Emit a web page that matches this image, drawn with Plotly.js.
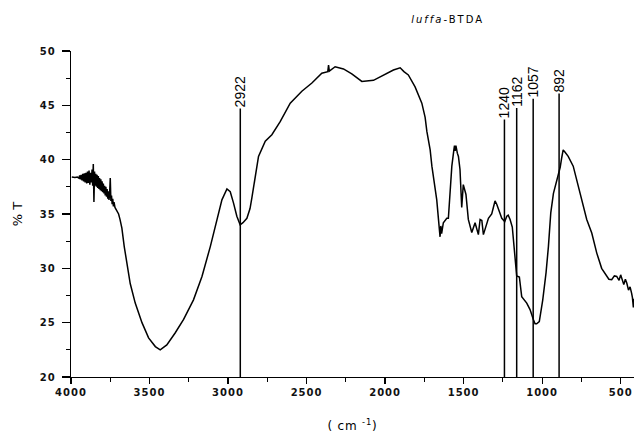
<!DOCTYPE html>
<html>
<head>
<meta charset="utf-8">
<script src="https://cdn.plot.ly/plotly-3.0.1.min.js"></script>
<style>
html,body{margin:0;padding:0;background:#fff;}
#chart{width:634px;height:433px;}
.xtick text,.ytick text{letter-spacing:1px;}
.gtitle{letter-spacing:2px;}
.g-xtitle text{letter-spacing:0.8px;}
</style>
</head>
<body>
<div id="chart"></div>
<script>
// FTIR spectrum of luffa-BTDA: wavenumber (cm^-1) vs % transmittance
const wavenumber = [3995,3975,3960,3950,3945,3940,3935,3930,3925,3920,3915,3910,3905,3900,3895,3890,3885,3880,3875,3870,3866,3862,3858,3854,3850,3846,3842,3838,3834,3830,3826,3822,3818,3814,3810,3806,3802,3798,3794,3790,3786,3782,3778,3774,3770,3766,3762,3758,3754,3750,3746,3742,3738,3734,3730,3726,3720,3712,3705,3697,3688,3676,3661,3644,3623,3591,3548,3506,3463,3432,3390,3337,3283,3220,3166,3113,3071,3039,3007,2986,2965,2944,2923,2905,2880,2860,2848,2827,2806,2763,2721,2668,2604,2530,2466,2403,2365,2360,2355,2318,2265,2212,2148,2074,2011,1947,1904,1880,1852,1809,1766,1745,1734,1713,1702,1692,1681,1671,1660,1654,1650,1645,1640,1629,1607,1597,1586,1575,1562,1558,1554,1549,1540,1533,1523,1512,1502,1485,1470,1448,1427,1406,1395,1384,1374,1363,1342,1321,1300,1289,1278,1257,1238,1225,1216,1204,1190,1178,1173,1162,1145,1130,1098,1077,1056,1045,1035,1018,996,975,960,945,928,911,900,892,885,875,866,855,834,802,780,748,716,684,652,621,589,575,557,540,525,510,500,493,480,470,461,450,440,430,425,419,416];
const transmittance = [38.4,38.35,38.4,38.3,38.55,38.2,38.6,38.1,38.7,38.0,38.75,37.9,38.8,37.8,38.9,37.85,39.0,37.7,38.8,37.9,39.1,37.6,39.6,36.1,38.9,37.6,38.7,37.5,38.6,37.4,38.5,37.3,38.3,37.2,38.2,37.1,38.0,37.0,37.8,36.9,37.6,36.7,37.5,36.6,37.3,36.4,37.1,36.3,36.9,38.3,36.2,36.7,35.9,36.4,35.7,36.1,35.6,35.4,35.2,35.0,34.5,33.7,32.0,30.5,28.6,26.8,25.0,23.6,22.8,22.5,22.95,24.05,25.3,27.1,29.25,32.0,34.45,36.3,37.3,37.05,36.0,34.8,34.0,34.2,34.6,35.5,36.5,38.6,40.3,41.7,42.3,43.5,45.2,46.3,47.05,47.95,48.1,48.7,48.15,48.55,48.35,47.9,47.2,47.3,47.8,48.25,48.45,48.1,47.8,46.7,45.2,43.9,42.6,40.9,39.4,38.4,37.4,36.3,34.5,33.3,32.9,33.9,33.2,34.2,34.6,34.6,37.2,39.4,40.9,41.3,40.8,41.3,40.6,40.3,39.1,35.6,37.7,36.8,34.5,33.3,34.2,33.1,34.5,34.4,33.1,33.6,34.6,35.0,36.2,35.9,35.4,34.6,34.3,34.8,34.9,34.5,33.8,32.0,31.1,29.3,29.2,27.4,26.8,26.2,25.3,24.9,24.9,25.1,27.1,29.6,32.0,35.1,36.9,37.85,38.6,39.1,39.3,40.2,40.9,40.7,40.3,39.4,38.15,36.3,34.5,33.25,31.4,30.0,29.25,29.0,28.95,29.3,29.25,28.9,29.4,29.1,28.5,29.0,28.65,28.0,28.3,27.7,27.3,26.4,27.2];

// Marked peaks and the height at which each marker line ends
const peakLabels = ["2922","1240","1162","1057","892"];
const peakPositions = [2922,1240,1162,1057,892];
const peakLineTops = [44.7,43.7,44.75,45.6,46.1];

const yTicks = [20,25,30,35,40,45,50];
const xTicks = [4000,3500,3000,2500,2000,1500,1000,500];

const traces = [{
  x: wavenumber, y: transmittance, type: 'scatter', mode: 'lines',
  line: {color: '#000', width: 1.5}, hoverinfo: 'skip', showlegend: false
}];
const annotations = [];
peakPositions.forEach((p, i) => {
  traces.push({
    x: [p, p], y: [20, peakLineTops[i]], type: 'scatter', mode: 'lines',
    line: {color: '#000', width: 1.5}, hoverinfo: 'skip', showlegend: false
  });
  annotations.push({
    x: p, y: peakLineTops[i], xref: 'x', yref: 'y', text: peakLabels[i],
    showarrow: false, textangle: -90, xanchor: 'center', yanchor: 'bottom',
    font: {family: 'Liberation Sans, Arial, sans-serif', size: 14, color: '#000'},
    borderpad: 0
  });
});

const layout = {
  width: 634, height: 433, autosize: false,
  paper_bgcolor: '#fff', plot_bgcolor: '#fff',
  margin: {l: 71, r: 0, t: 51, b: 56},
  title: {
    text: '<i>luffa</i>-BTDA', x: 0.706, xref: 'container', xanchor: 'center',
    y: 0.954, yref: 'container', yanchor: 'middle',
    font: {family: 'DejaVu Sans, sans-serif', size: 10, color: '#000'}
  },
  xaxis: {
    range: [4000, 415], tickvals: xTicks, ticktext: xTicks.map(String),
    ticks: 'outside', ticklen: 6, tickwidth: 1.2, tickcolor: '#000',
    minor: {dtick: 250, tick0: 0, ticks: 'outside', ticklen: 4, tickwidth: 1.2, tickcolor: '#000', showgrid: false},
    showline: true, linecolor: '#000', linewidth: 1.3, mirror: false,
    showgrid: false, zeroline: false,
    tickfont: {family: 'DejaVu Sans, sans-serif', size: 10, color: '#111', weight: 'bold'},
    title: {text: '( cm <sup>-1</sup>)', standoff: 26,
      font: {family: 'DejaVu Sans, sans-serif', size: 12, color: '#000'}}
  },
  yaxis: {
    range: [20, 50], tickvals: yTicks, ticktext: yTicks.map(String),
    ticks: 'outside', ticklen: 8, tickwidth: 1.2, tickcolor: '#000',
    minor: {dtick: 2.5, tick0: 0, ticks: 'outside', ticklen: 4, tickwidth: 1.2, tickcolor: '#000', showgrid: false},
    showline: true, linecolor: '#000', linewidth: 1.3, mirror: false,
    showgrid: false, zeroline: false, ticklabelstandoff: 4,
    tickfont: {family: 'DejaVu Sans, sans-serif', size: 10, color: '#111', weight: 'bold'},
    title: {text: '% T', standoff: 14,
      font: {family: 'DejaVu Sans, sans-serif', size: 13, color: '#000'}}
  },
  annotations: annotations
};

Plotly.newPlot('chart', traces, layout, {displayModeBar: false, staticPlot: true});
</script>
</body>
</html>
